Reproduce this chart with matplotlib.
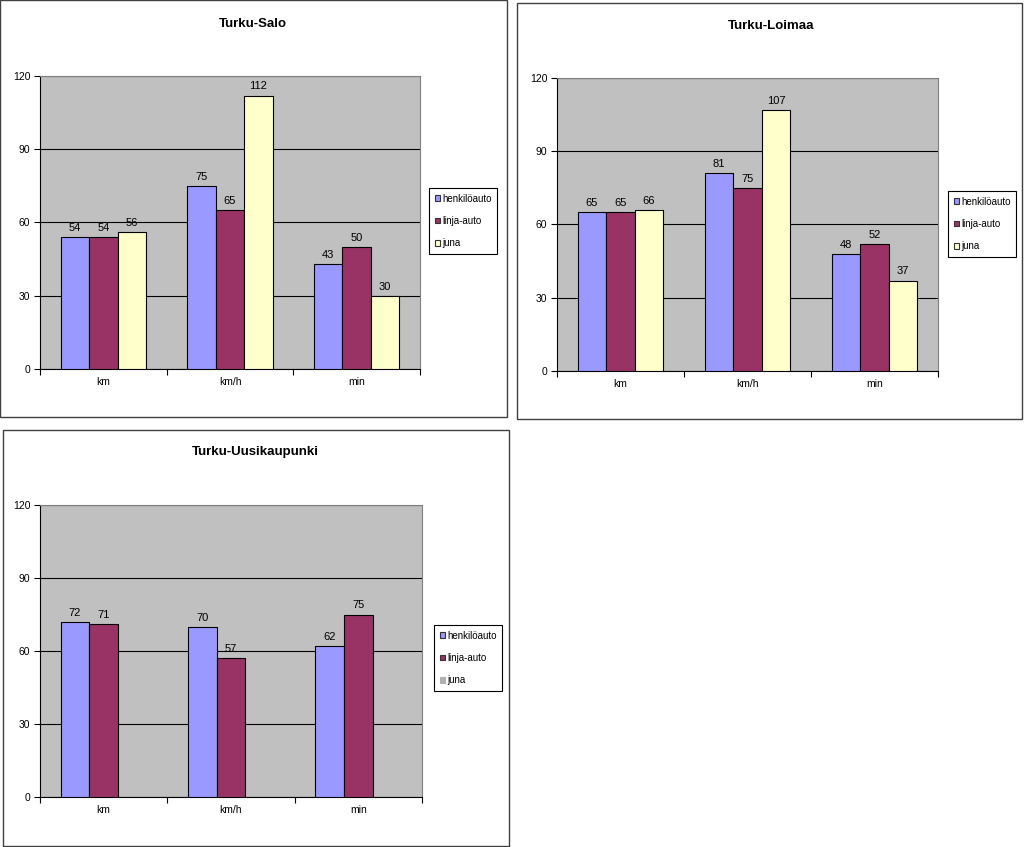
import numpy as np
import matplotlib.pyplot as plt
from matplotlib.patches import Rectangle, Patch

plt.rcParams['font.family'] = ['Liberation Sans', 'DejaVu Sans']

categories = ['km', 'km/h', 'min']
series_names = ['henkilöauto', 'linja-auto', 'juna']

salo_auto = [54, 75, 43]
salo_bus = [54, 65, 50]
salo_train = [56, 112, 30]

loimaa_auto = [65, 81, 48]
loimaa_bus = [65, 75, 52]
loimaa_train = [66, 107, 37]

uusi_auto = [72, 70, 62]
uusi_bus = [71, 57, 75]
uusi_train = [None, None, None]  # no train on this route

y_ticks = [0, 30, 60, 90, 120]
colors = ['#9999FF', '#993366', '#FFFFCC']

W, H = 1024, 847
fig = plt.figure(figsize=(W / 100, H / 100), dpi=100)


def px(x0, y0, x1, y1):
    # pixel box (top-left origin) -> figure rect
    return [x0 / W, 1 - y1 / H, (x1 - x0) / W, (y1 - y0) / H]


def panel(frame, plot, legend_xy, title, title_xy, series):
    fig.patches.append(Rectangle((frame[0] / W, 1 - frame[3] / H),
                                 (frame[2] - frame[0]) / W, (frame[3] - frame[1]) / H,
                                 transform=fig.transFigure, fill=False,
                                 edgecolor='#404040', lw=1))
    fig.text(title_xy[0] / W, 1 - title_xy[1] / H, title, ha='center', va='center',
             fontsize=9.5, fontweight='bold')

    ax = fig.add_axes(px(*plot))
    ax.set_facecolor('#C0C0C0')
    x = np.arange(len(categories))
    w = 0.225
    handles = []
    for i, (name, vals) in enumerate(zip(series_names, series)):
        pos = x + (i - 1) * w
        has = np.array([v is not None for v in vals])
        if has.any():
            hv = [v for v in vals if v is not None]
            bars = ax.bar(pos[has], hv, w, color=colors[i], edgecolor='black', lw=0.8, zorder=3)
            for b, v in zip(bars, hv):
                ax.annotate(str(v), (b.get_x() + b.get_width() / 2, v), xytext=(0, 3),
                            textcoords='offset points', ha='center', va='bottom', fontsize=8)
            handles.append(Patch(facecolor=colors[i], edgecolor='#333333', lw=0.8, label=name))
        else:
            handles.append(Patch(facecolor='#B0B0B0', edgecolor='#B0B0B0', lw=0.8, label=name))

    ax.set_xlim(-0.5, 2.5)
    ax.set_ylim(0, 120)
    ax.set_yticks(y_ticks)
    ax.yaxis.grid(True, color='black', lw=0.8, zorder=0)
    ax.set_axisbelow(True)
    ax.set_xticks([-0.5, 0.5, 1.5, 2.5])
    ax.set_xticklabels([])
    ax.set_xticks(x, minor=True)
    ax.set_xticklabels(categories, minor=True)
    ax.tick_params(axis='x', which='major', length=4, width=0.8, direction='out')
    ax.tick_params(axis='x', which='minor', length=0, pad=6, labelsize=7.5)
    ax.tick_params(axis='y', length=4, width=0.8, labelsize=7.5, pad=3)
    for s in ['top', 'right']:
        ax.spines[s].set_color('#808080')
        ax.spines[s].set_linewidth(0.8)
    for s in ['left', 'bottom']:
        ax.spines[s].set_color('black')
        ax.spines[s].set_linewidth(0.8)

    leg = fig.legend(handles=handles, loc='upper left',
                     bbox_to_anchor=(legend_xy[0] / W, 1 - legend_xy[1] / H),
                     frameon=True, fancybox=False, framealpha=1, edgecolor='black',
                     fontsize=7, handlelength=0.55, handleheight=0.55, handletextpad=0.2,
                     borderpad=0.6, labelspacing=1.25, borderaxespad=0)
    leg.get_frame().set_linewidth(0.8)


panel((0, 0, 507, 417), (40, 76, 420, 369), (429, 188), 'Turku-Salo', (253, 24),
      [salo_auto, salo_bus, salo_train])
panel((517, 3, 1022, 419), (557, 78, 938, 371), (948, 191), 'Turku-Loimaa', (771, 26),
      [loimaa_auto, loimaa_bus, loimaa_train])
panel((3, 430, 509, 846), (40, 505, 422, 797), (434, 625), 'Turku-Uusikaupunki', (255, 452),
      [uusi_auto, uusi_bus, uusi_train])

fig.savefig('out.png', dpi=100, facecolor='white')
